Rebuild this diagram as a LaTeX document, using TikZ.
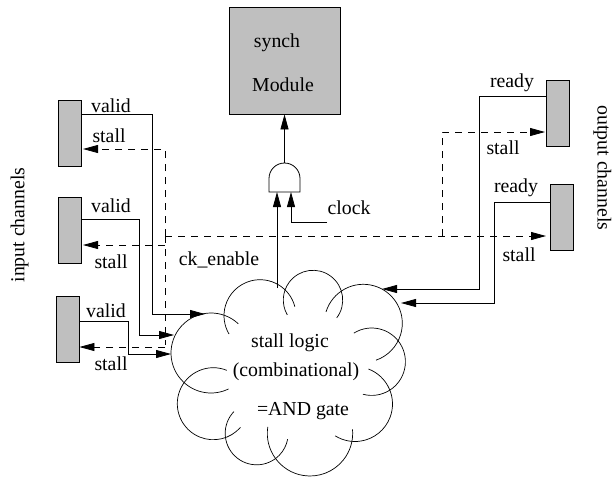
\documentclass[tikz,border=0pt]{standalone}
\usepackage{fontspec}
\setmainfont{Liberation Serif}
\usetikzlibrary{arrows.meta}
\tikzset{chan/.style={rectangle,draw,fill=black!25,line width=.8pt,minimum width=23pt,minimum height=66pt,inner sep=0pt},
lab/.style={inner sep=0pt,font=\fontsize{19.8}{22}\selectfont},
wire/.style={line width=.8pt},
tip/.style={-{Triangle[length=15pt,width=8pt]}},
stallw/.style={line width=.8pt,dash pattern=on 7pt off 6pt},
puff/.style={line width=.7pt}}
\begin{document}
\begin{tikzpicture}[x=1pt,y=-1pt]
\useasboundingbox (0,0) rectangle (612,477);
\node[chan] (in1) at (69.5,133) {};
\node[chan] (in2) at (69.5,230) {};
\node[chan] (in3) at (67.5,329.5) {};
\node[chan] (out1) at (558,113.5) {};
\node[chan] (out2) at (561.5,217.5) {};
\node[chan,minimum width=111pt,minimum height=107pt] (mod) at (284.5,60.5) {};
\node[lab] (synch) at (277,43) {synch};
\node[lab] (modtxt) at (283,85) {Module};
\node[lab] (v1) at (111,106) {valid};
\node[lab] (s1) at (109,136) {stall};
\node[lab] (v2) at (111,206) {valid};
\node[lab] (s2) at (111,262) {stall};
\node[lab] (v3) at (106,311) {valid};
\node[lab] (s3) at (111,364) {stall};
\node[lab] (r1) at (512,83) {ready};
\node[lab] (t1) at (503,148) {stall};
\node[lab] (r2) at (516,188) {ready};
\node[lab] (t2) at (519,255) {stall};
\node[lab] (clk) at (349,208) {clock};
\node[lab] (cken) at (219,260) {ck\_enable};
\node[lab] (logic) at (290,343) {stall logic};
\node[lab] (comb) at (296,372) {(combinational)};
\node[lab] (andg) at (303,411) {=AND gate};
\node[lab,rotate=90] (inch) at (19.5,225) {input channels};
\node[lab,rotate=-90] (outch) at (602.5,168) {output channels};
% gate
\draw[wire] (269,192) -- (300,192) -- (300,178.5) arc[start angle=0,end angle=-180,radius=15.5] -- cycle;
\coordinate (gtop) at (284.5,163);
\coordinate (gin1) at (277,192);
\coordinate (gin2) at (291,192);
\coordinate (clkw) at (327,222);
\coordinate (cktop) at (277,288);
\draw[wire,tip] (gtop) -- (mod.south -| gtop);
\draw[wire,tip] (cktop) -- (gin1);
\draw[wire,tip] (clkw) -| (gin2);
% cloud
\draw[puff] (211,353) ++(313:40) arc[start angle=313,end angle=64,radius=40];
\draw[puff] (260,315.7) ++(345.6:36) arc[start angle=345.6,end angle=149.4,radius=36];
\draw[puff] (313,300) ++(37:29.7) arc[start angle=37,end angle=-210,radius=29.7];
\draw[puff] (363.3,323.3) ++(197:39) arc[start angle=197,end angle=431,radius=39];
\draw[puff] (371.7,361.7) ++(238:33.7) arc[start angle=238,end angle=465,radius=33.7];
\draw[puff] (355,404) ++(291:37.5) arc[start angle=291,end angle=482,radius=37.5];
\draw[puff] (310,433.3) ++(188.7:42.7) arc[start angle=188.7,end angle=-5.4,radius=42.7];
\draw[puff] (256.7,433.3) ++(223.7:31.5) arc[start angle=223.7,end angle=10.7,radius=31.5];
\draw[puff] (213.3,403.7) ++(292:36) arc[start angle=292,end angle=41,radius=36];
% valid and ready
\coordinate (e1) at (205,314);
\coordinate (e2) at (174,335);
\coordinate (e3) at (171,354);
\coordinate (e4) at (382,289);
\coordinate (e5) at (401,303);
\draw[wire,tip] (in1.east |- 0,114) -- (152,114) |- (e1);
\draw[wire,tip] (in2.east |- 0,219) -- (139,219) |- (e2);
\draw[wire,tip] (in3.east |- 0,321) -- (128,321) |- (e3);
\draw[wire,tip] (out1.west |- 0,96) -- (479,96) |- (e4);
\draw[wire,tip] (out2.west |- 0,202) -- (494,202) |- (e5);
% stall
\coordinate (sl) at (165,345);
\coordinate (tr) at (165,236);
\coordinate (br) at (442,236);
\draw[stallw,tip] (tr) -- (165,149) -- (83,149);
\draw[stallw] (tr) -- (sl);
\draw[stallw,tip] (165,245) -- (83,245);
\draw[stallw,tip] (165,347) -- (in3.east |- 0,347);
\draw[stallw,tip] (tr) -- (546,236);
\draw[stallw,tip] (br) |- (545,132);
\end{tikzpicture}
\end{document}
